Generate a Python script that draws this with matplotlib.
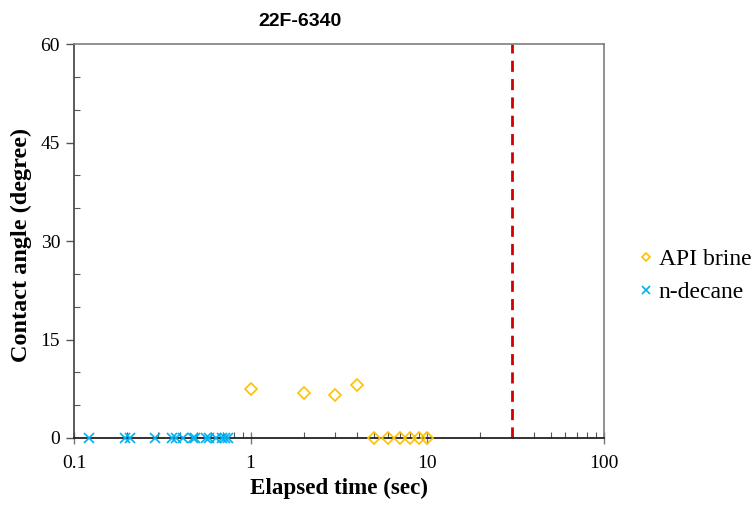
import matplotlib
matplotlib.use("Agg")
import matplotlib.pyplot as plt
from matplotlib.ticker import FixedLocator, NullFormatter, LogLocator

# Contact angle measurements
brine_time = [1.0, 2.0, 3.0, 4.0, 5.0, 6.0, 7.0, 8.0, 9.0, 10.0]
brine_angle = [7.5, 6.8, 6.5, 8.1, 0, 0, 0, 0, 0, 0]

decane_time = [0.122, 0.195, 0.208, 0.287, 0.36, 0.38, 0.415, 0.47, 0.485,
               0.56, 0.585, 0.64, 0.69, 0.715, 0.74]
decane_angle = [0] * len(decane_time)

cutoff_time = 30
x_ticks = [0.1, 1, 10, 100]
x_tick_labels = ["0.1", "1", "10", "100"]
y_ticks = [0, 15, 30, 45, 60]

serif = "Liberation Serif"

fig = plt.figure(figsize=(7.54, 5.13), dpi=100)
ax = fig.add_axes([0.0981, 0.1462, 0.7029, 0.768])

ax.plot(brine_time, brine_angle, linestyle="none", marker="D", markersize=6,
        markerfacecolor="none", markeredgecolor="#FFC000", markeredgewidth=1.2,
        label="API brine", zorder=3, clip_on=False)
ax.plot(decane_time, decane_angle, linestyle="none", marker="x", markersize=7,
        color="#00B0F0", markeredgewidth=1.2, label="n-decane", zorder=3,
        clip_on=False)
ax.axvline(cutoff_time, color="#D00000", linestyle=(0, (4, 2.6)), linewidth=2.0,
           zorder=2)

ax.set_xscale("log")
ax.set_xlim(0.1, 100)
ax.set_ylim(0, 60)
ax.xaxis.set_major_locator(FixedLocator(x_ticks))
ax.set_xticklabels(x_tick_labels)
ax.xaxis.set_minor_locator(LogLocator(base=10, subs=range(2, 10)))
ax.xaxis.set_minor_formatter(NullFormatter())
ax.yaxis.set_major_locator(FixedLocator(y_ticks))
ax.yaxis.set_minor_locator(FixedLocator(range(0, 61, 5)))

ax.tick_params(axis="x", which="major", direction="inout", length=9, width=1,
               color="#777777", labelsize=14, pad=8)
ax.tick_params(axis="x", which="minor", direction="in", length=4, width=0.8,
               color="#555555")
ax.tick_params(axis="y", which="major", direction="out", length=6, width=1,
               color="#555555", labelsize=14, pad=4)
ax.tick_params(axis="y", which="minor", direction="in", length=4, width=0.8,
               color="#555555")
for lab in ax.get_xticklabels() + ax.get_yticklabels():
    lab.set_fontfamily(serif)

for side in ["top", "right", "left"]:
    ax.spines[side].set_color("#7f7f7f")
    ax.spines[side].set_linewidth(1.2)
ax.spines["left"].set_color("#404040")
ax.spines["bottom"].set_color("#222222")
ax.spines["bottom"].set_linewidth(1.3)

ax.set_xlabel("Elapsed time (sec)", fontfamily=serif, fontweight="bold",
              fontsize=16.6)
ax.xaxis.set_label_coords(0.5, -(488 - 438) / 394)
ax.xaxis.label.set_va("center")
ax.set_ylabel("Contact angle (degree)", fontfamily=serif, fontweight="bold",
              fontsize=17.5)
ax.yaxis.set_label_coords(-(74 - 21) / 530, (438 - 245) / 394)
ax.yaxis.label.set_va("center")
fig.text(300 / 754, 1 - 22 / 513, "22F-6340", family="Liberation Sans",
         fontweight="bold", fontsize=14, ha="center", va="center")

leg = fig.legend(handles=ax.get_lines()[:2], loc="center left",
                 bbox_to_anchor=(629 / 754, 1 - 276 / 513), frameon=False,
                 prop={"family": serif, "size": 17}, handlelength=0.6,
                 handletextpad=0.25, labelspacing=0.5, borderaxespad=0,
                 markerscale=0.75)

fig.savefig("out.png", dpi=100)
